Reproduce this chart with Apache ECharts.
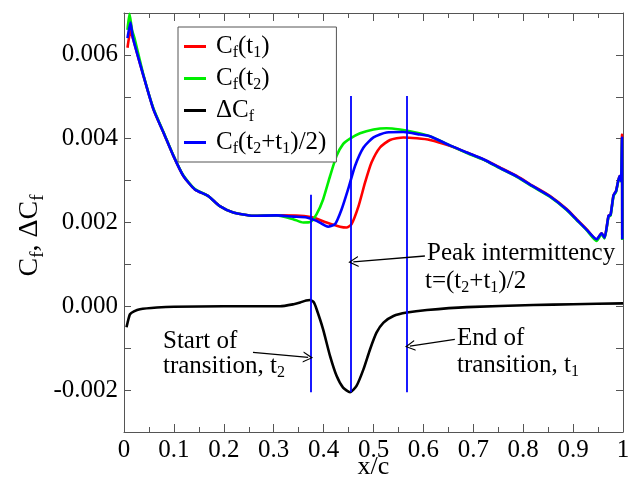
<!DOCTYPE html>
<html>
<head>
<meta charset="utf-8">
<script src="https://cdn.jsdelivr.net/npm/echarts@6.0.0/dist/echarts.min.js"></script>
<style>
  html, body { margin: 0; padding: 0; background: #fff; }
  #main { width: 629px; height: 486px; }
</style>
</head>
<body>
<div id="main"></div>
<script>
// skin friction
var cfT1 = [
  [0.007, 0.00617], [0.013, 0.00657], [0.019, 0.00635], [0.039, 0.0055], [0.059, 0.0047],
  [0.079, 0.00415], [0.099, 0.00359], [0.119, 0.00311], [0.142, 0.00279], [0.169, 0.00263],
  [0.192, 0.00239], [0.219, 0.00224], [0.259, 0.00216], [0.306, 0.00217], [0.353, 0.00216],
  [0.379, 0.00212], [0.406, 0.002], [0.433, 0.0019], [0.446, 0.00188], [0.456, 0.00196],
  [0.47, 0.00239], [0.483, 0.00295], [0.496, 0.00343], [0.513, 0.00379], [0.533, 0.00397],
  [0.56, 0.00403], [0.587, 0.00401], [0.613, 0.00397], [0.653, 0.00383], [0.687, 0.00367],
  [0.72, 0.00351], [0.754, 0.00331], [0.787, 0.00311], [0.82, 0.00287], [0.854, 0.00263],
  [0.887, 0.00232], [0.907, 0.00208], [0.927, 0.00184], [0.947, 0.00159], [0.957, 0.00174],
  [0.963, 0.00164], [0.971, 0.00216], [0.975, 0.00218], [0.981, 0.00265], [0.986, 0.00275],
  [0.993, 0.00311], [0.996, 0.003], [0.998, 0.0041], [0.9985, 0.0017]
];
var cfT2 = [
  [0.007, 0.0066], [0.011, 0.00698], [0.016, 0.0066], [0.021, 0.0064], [0.039, 0.00552], [0.059, 0.00472],
  [0.079, 0.00416], [0.099, 0.0036], [0.119, 0.00312], [0.142, 0.0028], [0.169, 0.00263],
  [0.192, 0.00239], [0.219, 0.00224], [0.259, 0.00216], [0.306, 0.00217], [0.339, 0.00208],
  [0.359, 0.002], [0.373, 0.00201], [0.386, 0.0022], [0.399, 0.00255], [0.413, 0.00311],
  [0.426, 0.00359], [0.439, 0.00387], [0.453, 0.004], [0.473, 0.00413], [0.5, 0.00422],
  [0.526, 0.00425], [0.553, 0.00422], [0.58, 0.00416], [0.613, 0.00406], [0.653, 0.00384],
  [0.687, 0.00366], [0.72, 0.0035], [0.754, 0.00329], [0.787, 0.00309], [0.82, 0.00285],
  [0.854, 0.00261], [0.887, 0.0023], [0.907, 0.00206], [0.927, 0.00182], [0.947, 0.00156],
  [0.957, 0.00172], [0.963, 0.00162], [0.971, 0.00214], [0.975, 0.00216], [0.981, 0.00263],
  [0.986, 0.00273], [0.993, 0.00309], [0.996, 0.00298], [0.998, 0.004], [0.9985, 0.00158]
];
var deltaCf = [
  [0.005, -0.0005], [0.008, -0.00035], [0.012, -0.00019], [0.02, -0.00012], [0.032, -0.00007],
  [0.066, -0.00003], [0.1, -0.00001], [0.2, 0], [0.3, 0], [0.313, 0], [0.34, 0.00005],
  [0.353, 0.00009], [0.365, 0.00014], [0.373, 0.00015], [0.38, 0.0001], [0.386, -0.00007],
  [0.399, -0.00055], [0.413, -0.00119], [0.426, -0.00166], [0.439, -0.00194], [0.453, -0.00205],
  [0.466, -0.0019], [0.48, -0.0015], [0.493, -0.00103], [0.506, -0.00063], [0.52, -0.00039],
  [0.54, -0.00023], [0.567, -0.00015], [0.607, -0.00009], [0.687, -0.00002], [0.82, 0.00003],
  [0.9, 0.00005], [1.0, 0.00007]
];
var cfMid = [
  [0.007, 0.0064], [0.013, 0.00677], [0.018, 0.0064], [0.039, 0.0055], [0.059, 0.0047],
  [0.079, 0.00415], [0.099, 0.00359], [0.119, 0.00311], [0.142, 0.00279], [0.169, 0.00263],
  [0.192, 0.00239], [0.219, 0.00224], [0.259, 0.00216], [0.306, 0.00217], [0.339, 0.00214],
  [0.366, 0.00212], [0.386, 0.00204], [0.409, 0.0019], [0.423, 0.00196], [0.436, 0.00231],
  [0.449, 0.00279], [0.463, 0.00335], [0.48, 0.00379], [0.5, 0.00403], [0.526, 0.00415],
  [0.56, 0.00416], [0.593, 0.0041], [0.613, 0.00406], [0.653, 0.00384], [0.687, 0.00367],
  [0.72, 0.00351], [0.754, 0.0033], [0.787, 0.0031], [0.82, 0.00286], [0.854, 0.00262],
  [0.887, 0.00231], [0.907, 0.00207], [0.927, 0.00183], [0.947, 0.0016], [0.957, 0.00174],
  [0.963, 0.00164], [0.971, 0.00216], [0.975, 0.00218], [0.981, 0.00265], [0.986, 0.00275],
  [0.993, 0.00311], [0.996, 0.00299], [0.998, 0.00403], [0.9985, 0.0016]
];

// transition markers: x position, top and bottom of the line
var markerX = [0.375, 0.454, 0.567];
var markerTop = [0.00266, 0.00502, 0.00502];
var markerBottom = -0.00205;

// arrows: [from, to] in data units
var arrows = [
  [[0.603, 0.0012], [0.4595, 0.00106]],
  [[0.663, -0.00079], [0.573, -0.00095]],
  [[0.2585, -0.0011], [0.369, -0.00122]]
];

var seriesNames = ['Cf(t1)', 'Cf(t2)', 'ΔCf', 'Cf(t2+t1)/2'];
var seriesColors = ['#ff0000', '#00ee00', '#000000', '#0000ff'];
var legendRich = {
  'Cf(t1)': '{m|C}{s|f}{m|(t}{s|1}{m|)}',
  'Cf(t2)': '{m|C}{s|f}{m|(t}{s|2}{m|)}',
  'ΔCf': '{m|ΔC}{s|f}',
  'Cf(t2+t1)/2': '{m|C}{s|f}{m|(t}{s|2}{m|+t}{s|1}{m|)/2)}'
};

var serif = 'Liberation Serif';
function richStyle(size, subSize, drop) {
  return {
    m: { fontFamily: serif, fontSize: size, color: '#000', lineHeight: size, verticalAlign: 'top' },
    s: { fontFamily: serif, fontSize: subSize, color: '#000', lineHeight: subSize,
         verticalAlign: 'top', padding: [drop, 0, 0, 0] }
  };
}

var chart = echarts.init(document.getElementById('main'));

var markLines = [];
markerX.forEach(function (x, i) {
  markLines.push([{ coord: [x, markerTop[i]] }, { coord: [x, markerBottom] }]);
});

var arrowLines = arrows.map(function (a) {
  return [{ coord: a[0] }, { coord: a[1] }];
});

var series = [cfT1, cfT2, deltaCf, cfMid].map(function (d, i) {
  return {
    name: seriesNames[i],
    type: 'line',
    data: d,
    symbol: 'none',
    smooth: 0.2,
    lineStyle: { color: seriesColors[i], width: 2.6 },
    itemStyle: { color: seriesColors[i] },
    z: 2 + i
  };
});
// vertical marker lines
series.push({
  type: 'line', data: [], xAxisIndex: 0, yAxisIndex: 0, z: 10,
  markLine: {
    silent: true, symbol: ['none', 'none'], label: { show: false },
    lineStyle: { color: '#0000ff', width: 1.8, type: 'solid' },
    data: markLines
  }
});
// arrows
series.push({
  type: 'line', data: [], z: 10,
  markLine: {
    silent: true,
    symbol: ['none', 'path://M6,0 L12,13 L10.6,13 L6,3 L1.4,13 L0,13 Z'],
    symbolSize: [11, 10],
    label: { show: false },
    lineStyle: { color: '#000', width: 1.3, type: 'solid' },
    itemStyle: { color: '#000' },
    data: arrowLines
  }
});

function note(x, y, text) {
  return {
    type: 'text', left: x, top: y, z: 20,
    style: { text: text, rich: richStyle(25, 16, 11), fill: '#000' }
  };
}

var axisGrey = '#555';
function frameAxis(extra) {
  var base = {
    type: 'value',
    axisLine: { onZero: false, lineStyle: { color: axisGrey, width: 1 } },
    axisTick: { inside: true, length: 8, lineStyle: { color: axisGrey } },
    splitLine: { show: false }
  };
  return Object.assign(base, extra);
}

var option = {
  backgroundColor: '#fff',
  animation: false,
  grid: { left: 124, right: 6, top: 13, bottom: 54, outerBoundsMode: 'none', containLabel: false },
  legend: {
    data: seriesNames,
    orient: 'vertical',
    left: 178, top: 27,
    padding: [7, 10, 5, 6],
    itemGap: 5,
    itemWidth: 22, itemHeight: 3,
    icon: 'rect',
    borderColor: '#555', borderWidth: 1,
    backgroundColor: '#fff',
    formatter: function (n) { return legendRich[n]; },
    textStyle: { rich: richStyle(25, 16, 11), padding: [0, 0, 0, 5] }
  },
  xAxis: [
    frameAxis({
      min: 0, max: 1, interval: 0.1, position: 'bottom',
      name: 'x/c', nameLocation: 'middle', nameGap: 22, nameMoveOverlap: false,
      nameTextStyle: { fontFamily: serif, fontSize: 26, color: '#000' },
      minorTick: { show: true, splitNumber: 2, length: 5, lineStyle: { color: axisGrey } },
      axisLabel: { fontFamily: serif, fontSize: 25, color: '#000', margin: 6 }
    }),
    frameAxis({
      min: 0, max: 1, interval: 0.1, position: 'top',
      minorTick: { show: true, splitNumber: 2, length: 5, lineStyle: { color: axisGrey } },
      axisLabel: { show: false }
    })
  ],
  yAxis: [
    frameAxis({
      min: -0.003, max: 0.007, interval: 0.001, position: 'left',
      name: '{m|C}{s|f}{m|, ΔC}{s|f}', nameLocation: 'middle', nameGap: 80, nameMoveOverlap: false,
      nameTextStyle: { rich: richStyle(28, 19, 13), padding: [0, 26, 0, 0] },
      axisTick: { inside: true, length: 7, lineStyle: { color: axisGrey } },
      axisLabel: {
        fontFamily: serif, fontSize: 25, color: '#000', margin: 6,
        formatter: function (v) {
          var k = Math.round(v * 1000);
          if (k % 2 !== 0) return '';
          return (k / 1000).toFixed(3);
        }
      }
    }),
    frameAxis({
      min: -0.003, max: 0.007, interval: 0.001, position: 'right',
      axisTick: { inside: true, length: 7, lineStyle: { color: axisGrey } },
      axisLabel: { show: false }
    })
  ],
  graphic: [
    note(427, 241, '{m|Peak intermittency}'),
    note(425, 269, '{m|t=(t}{s|2}{m|+t}{s|1}{m|)/2}'),
    note(457, 326, '{m|End of}'),
    note(457, 353, '{m|transition, t}{s|1}'),
    note(163, 329, '{m|Start of}'),
    note(163, 354, '{m|transition, t}{s|2}')
  ],
  series: series
};

chart.setOption(option);
</script>
</body>
</html>
